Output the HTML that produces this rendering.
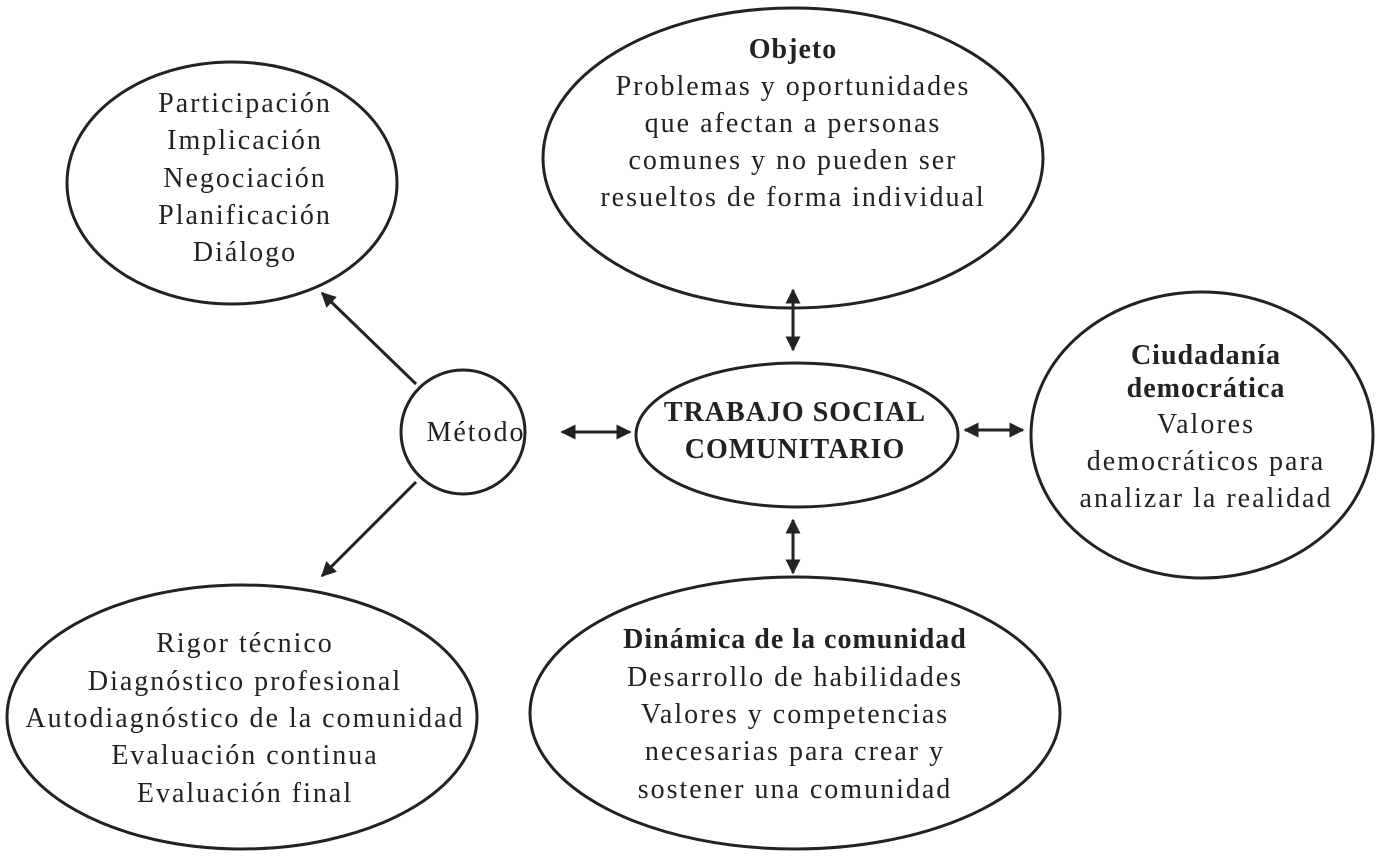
<!DOCTYPE html>
<html><head><meta charset="utf-8"><style>
html,body{margin:0;padding:0;background:#fff;}
text{font-family:"Liberation Serif",serif;font-size:28px;letter-spacing:2px;fill:#222;text-anchor:middle;}
.b{font-weight:bold;letter-spacing:1px;}
</style></head><body>
<svg width="1377" height="855" viewBox="0 0 1377 855" xmlns="http://www.w3.org/2000/svg">
<defs>
<marker id="a" viewBox="0 0 10 10" refX="9" refY="5" markerWidth="5" markerHeight="5" orient="auto-start-reverse">
<path d="M0,0 L10,5 L0,10 z" fill="#222"/></marker>
</defs>
<g fill="none" stroke="#222" stroke-width="3">
<ellipse cx="232" cy="183" rx="165" ry="121"/>
<ellipse cx="793" cy="158" rx="250" ry="150"/>
<circle cx="463" cy="432" r="62"/>
<ellipse cx="797" cy="435" rx="161" ry="72"/>
<ellipse cx="1202" cy="435" rx="171" ry="143"/>
<ellipse cx="242" cy="717" rx="235" ry="132"/>
<ellipse cx="795" cy="713" rx="265" ry="136"/>
<line x1="416" y1="384" x2="322" y2="293" marker-end="url(#a)"/>
<line x1="416" y1="482" x2="322" y2="576" marker-end="url(#a)"/>
<line x1="562" y1="432" x2="630" y2="432" marker-start="url(#a)" marker-end="url(#a)"/>
<line x1="793" y1="290" x2="793" y2="350" marker-start="url(#a)" marker-end="url(#a)"/>
<line x1="793" y1="520" x2="793" y2="573" marker-start="url(#a)" marker-end="url(#a)"/>
<line x1="965" y1="430" x2="1023" y2="430" marker-start="url(#a)" marker-end="url(#a)"/>
</g>
<text x="245" y="112">Participación</text>
<text x="245" y="149">Implicación</text>
<text x="245" y="187">Negociación</text>
<text x="245" y="224">Planificación</text>
<text x="245" y="261">Diálogo</text>
<text x="793" y="58" class="b">Objeto</text>
<text x="793" y="95">Problemas y oportunidades</text>
<text x="793" y="132">que afectan a personas</text>
<text x="793" y="169">comunes y no pueden ser</text>
<text x="793" y="206">resueltos de forma individual</text>
<text x="476" y="441">Método</text>
<text x="795" y="421" class="b">TRABAJO SOCIAL</text>
<text x="795" y="458" class="b">COMUNITARIO</text>
<text x="1206" y="364" class="b">Ciudadanía</text>
<text x="1206" y="397" class="b">democrática</text>
<text x="1206" y="433">Valores</text>
<text x="1206" y="470">democráticos para</text>
<text x="1206" y="507">analizar la realidad</text>
<text x="245" y="652">Rigor técnico</text>
<text x="245" y="690">Diagnóstico profesional</text>
<text x="245" y="727">Autodiagnóstico de la comunidad</text>
<text x="245" y="764">Evaluación continua</text>
<text x="245" y="802">Evaluación final</text>
<text x="795" y="648" class="b">Dinámica de la comunidad</text>
<text x="795" y="686">Desarrollo de habilidades</text>
<text x="795" y="723">Valores y competencias</text>
<text x="795" y="760">necesarias para crear y</text>
<text x="795" y="798">sostener una comunidad</text>
</svg>
</body></html>
